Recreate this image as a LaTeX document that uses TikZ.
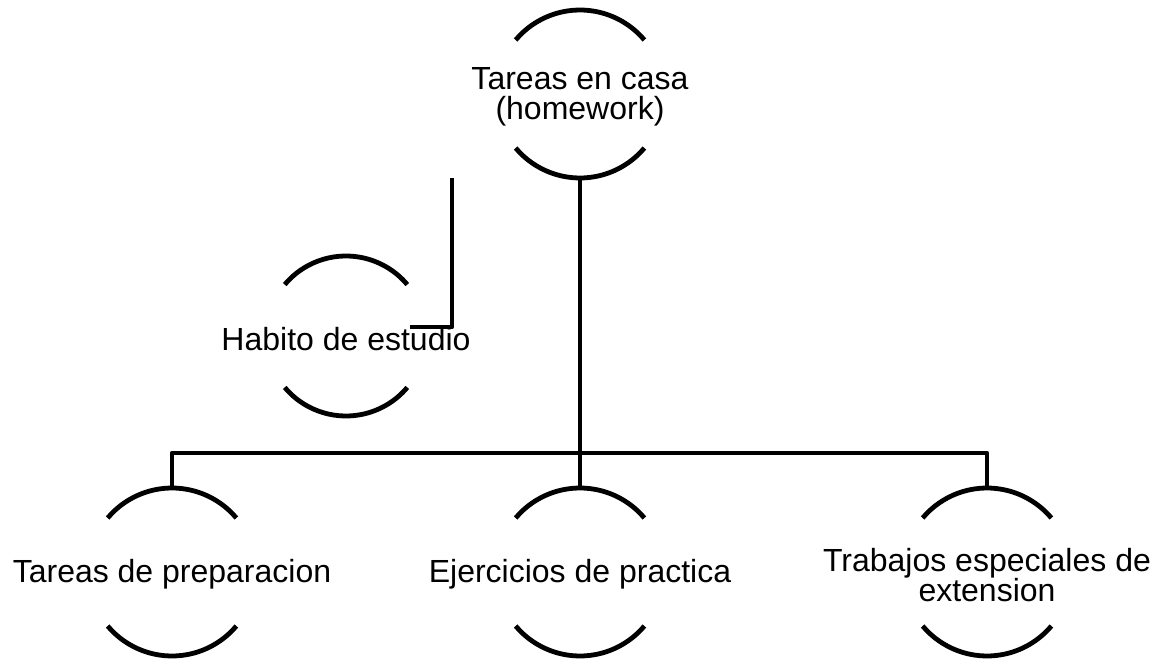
\documentclass[tikz,border=0pt]{standalone}
\usepackage{fontspec}
\setmainfont{Liberation Sans}
\usepackage{tikz}
\usetikzlibrary{positioning}

\begin{document}
\begin{tikzpicture}[x=0.75pt, y=0.75pt, line width=3.6pt, line join=round,
  topic/.style={circle, outer sep=0pt, inner sep=0pt, minimum size=126pt},
  small topic/.style={topic, minimum size=120pt},
  topictext/.style={align=center, yshift=-2pt, font=\fontsize{24}{22.5}\selectfont}]
  \useasboundingbox (0,0) rectangle (1168,-659);

  \node[topic]       (home)  at (580,-94)  [label={[topictext]center:{Tareas en casa\\(homework)}}] {};
  \node[small topic] (habit) at (346,-336) [label={[topictext]center:{Habito de estudio}}] {};
  \node[topic]       (prep)  at (172,-572) [label={[topictext]center:{Tareas de preparacion}}] {};
  \node[topic]       (prac)  at (580,-572) [label={[topictext]center:{Ejercicios de practica}}] {};
  \node[topic]       (ext)   at (987,-572) [label={[topictext]center:{Trabajos especiales de\\extension}}] {};

  % arcs above and below each topic
  \foreach \n/\r in {home/63pt, habit/60pt, prep/63pt, prac/63pt, ext/63pt}
    \draw (\n.140) arc[start angle=140, end angle=40, radius=\r]
          (\n.220) arc[start angle=220, end angle=320, radius=\r];

  % tree
  \draw (home.south) -- (prac.north);
  \draw (prep.north) -- ++(0,35) -| (ext.north);

  \coordinate (elbowtop) at (452,-178);
  \coordinate (elbowend) at (410,-327);
  \draw (elbowtop) |- (elbowend);
\end{tikzpicture}
\end{document}
